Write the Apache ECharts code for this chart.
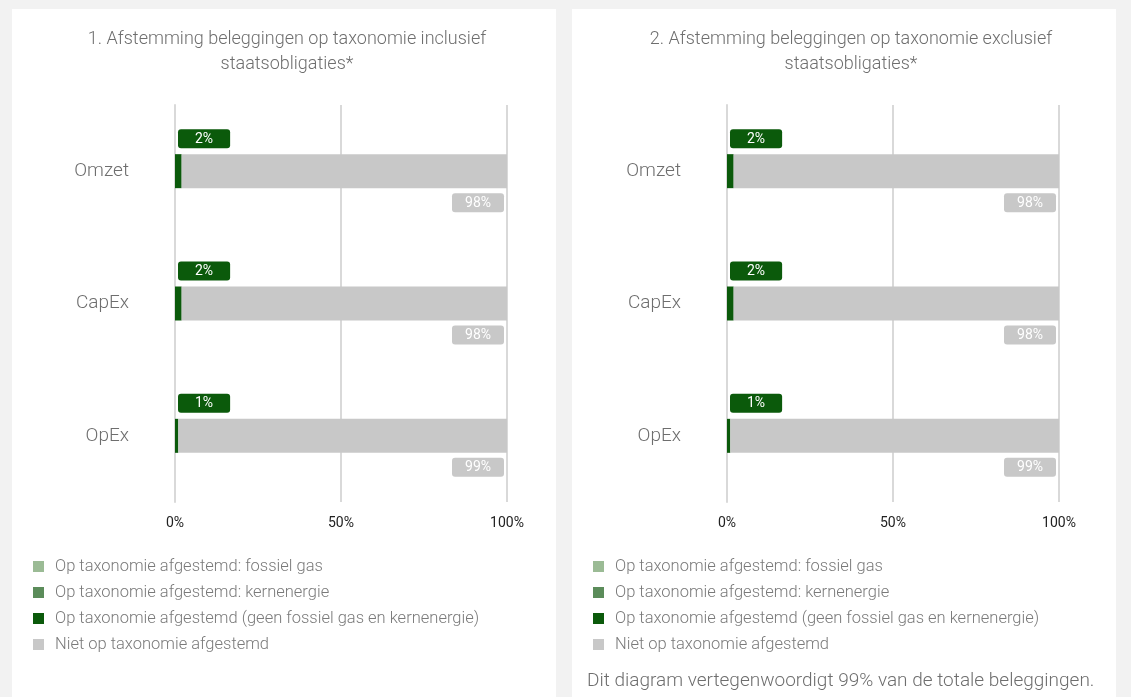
<!DOCTYPE html>
<html>
<head>
<meta charset="utf-8">
<script src="https://cdn.jsdelivr.net/npm/echarts@6/dist/echarts.min.js"></script>
<style>
  html, body { margin: 0; padding: 0; background: #f2f2f2; }
  #chart { width: 1131px; height: 697px; }
</style>
</head>
<body>
<div id="chart"></div>
<script>
// data
const categories = ['Omzet', 'CapEx', 'OpEx'];
const seriesNames = [
  'Op taxonomie afgestemd: fossiel gas',
  'Op taxonomie afgestemd: kernenergie',
  'Op taxonomie afgestemd (geen fossiel gas en kernenergie)',
  'Niet op taxonomie afgestemd'
];
const xTicks = [0, 50, 100];
// grafiek 1: inclusief staatsobligaties
const gas1 = [0, 0, 0];
const kern1 = [0, 0, 0];
const afgestemd1 = [2, 2, 1];
const niet1 = [98, 98, 99];
// grafiek 2: exclusief staatsobligaties
const gas2 = [0, 0, 0];
const kern2 = [0, 0, 0];
const afgestemd2 = [2, 2, 1];
const niet2 = [98, 98, 99];

const titles = [
  '1. Afstemming beleggingen op taxonomie inclusief\nstaatsobligaties*',
  '2. Afstemming beleggingen op taxonomie exclusief\nstaatsobligaties*'
];
const footnote = 'Dit diagram vertegenwoordigt 99% van de totale beleggingen.';

const colors = ['#9bbb95', '#5b8c5a', '#0b5a0b', '#c8c8c8'];
const FONT = 'Roboto';

const chart = echarts.init(document.getElementById('chart'));

function makeGrid(left) {
  return { left: left, top: 105, width: 332, height: 397 };
}
function makeXAxis(idx) {
  return {
    type: 'value', gridIndex: idx, min: 0, max: 100, interval: 50,
    axisLine: { show: false },
    axisTick: { show: false },
    axisLabel: {
      color: '#222', fontSize: 14, fontFamily: FONT, margin: 14,
      formatter: v => xTicks.includes(v) ? v + '%' : ''
    },
    splitLine: { lineStyle: { color: '#d9d9d9', width: 2 } }
  };
}
function makeYAxis(idx) {
  return {
    type: 'category', gridIndex: idx, data: categories, inverse: true,
    axisLine: { lineStyle: { color: '#d9d9d9', width: 2 } },
    axisTick: { length: 5, lineStyle: { color: '#d9d9d9' } },
    axisLabel: {
      color: '#6e6e6e', fontSize: 19, fontFamily: FONT, fontWeight: 300, margin: 46,
      padding: [10, 0, 0, 0]
    }
  };
}
function makeSeries(idx, data) {
  return data.map((d, i) => {
    const s = {
      name: seriesNames[i], type: 'bar', stack: 'tot' + idx,
      xAxisIndex: idx, yAxisIndex: idx, barWidth: 34,
      itemStyle: { color: colors[i] },
      data: d, label: { show: false }
    };
    if (i === 2) {
      s.label = {
        show: true, position: [3, -6], align: 'left', verticalAlign: 'bottom',
        formatter: '{c}%', color: '#fff', fontSize: 14, fontFamily: FONT,
        backgroundColor: '#0b5a0b', borderRadius: 3, padding: [3, 17, 2, 17]
      };
    }
    if (i === 3) {
      s.label = {
        show: true, position: ['100%', '100%'], align: 'right', verticalAlign: 'top',
        offset: [-3, 5],
        formatter: '{c}%', color: '#fff', fontSize: 14, fontFamily: FONT,
        backgroundColor: '#c8c8c8', borderRadius: 3, padding: [3, 13, 2, 13]
      };
    }
    return s;
  });
}
function makeLegend(left) {
  return {
    orient: 'vertical', left: left, top: 553, data: seriesNames,
    icon: 'rect', itemWidth: 11, itemHeight: 11, itemGap: 9,
    textStyle: { color: '#7a7a7a', fontSize: 16.5, fontFamily: FONT, fontWeight: 300, padding: [0, 0, 0, 6] },
    selectedMode: false
  };
}

chart.setOption({
  animation: false,
  color: colors,
  graphic: [
    { type: 'rect', shape: { x: 12, y: 9, width: 544, height: 700 }, style: { fill: '#fff' }, z: -10 },
    { type: 'rect', shape: { x: 572, y: 9, width: 544, height: 700 }, style: { fill: '#fff' }, z: -10 },
    { type: 'text', x: 287, y: 27, style: { text: titles[0], textAlign: 'center', fill: '#6e6e6e', font: '300 18px ' + FONT, lineHeight: 25 } },
    { type: 'text', x: 851, y: 27, style: { text: titles[1], textAlign: 'center', fill: '#6e6e6e', font: '300 18px ' + FONT, lineHeight: 25 } },
    { type: 'text', x: 587, y: 672, style: { text: footnote, fill: '#6e6e6e', font: '300 19px ' + FONT } }
  ],
  grid: [makeGrid(175), makeGrid(727)],
  xAxis: [makeXAxis(0), makeXAxis(1)],
  yAxis: [makeYAxis(0), makeYAxis(1)],
  legend: [makeLegend(28), makeLegend(588)],
  series: [
    ...makeSeries(0, [gas1, kern1, afgestemd1, niet1]),
    ...makeSeries(1, [gas2, kern2, afgestemd2, niet2])
  ]
});

window.addEventListener('resize', () => chart.resize());
</script>
</body>
</html>
